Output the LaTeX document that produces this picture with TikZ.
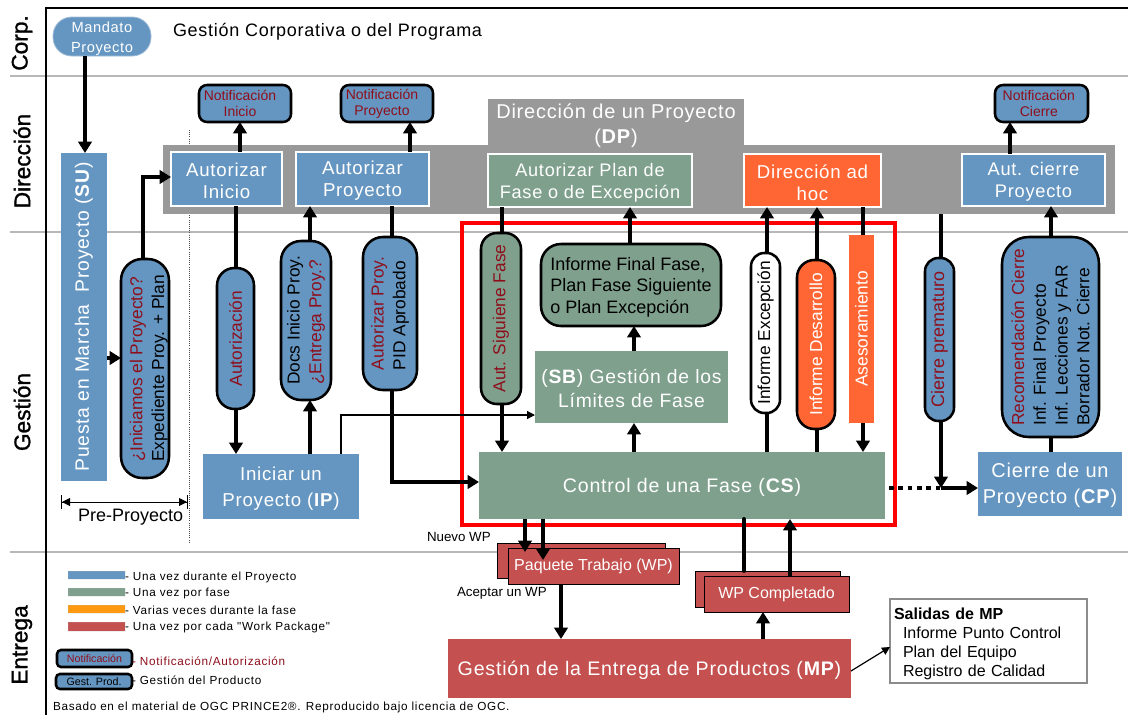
\documentclass[tikz,border=0pt]{standalone}
\usepackage{fontspec}
\usetikzlibrary{arrows.meta}
\setmainfont{Liberation Sans}
\newfontfamily\wf[LetterSpace=4]{Liberation Sans}
\newfontfamily\lf[LetterSpace=6]{Liberation Sans}
\newfontfamily\lanef[FakeBold=1.2]{Liberation Sans}
\newcommand{\F}[2]{\fontsize{#1}{#2}\selectfont}
\definecolor{cblue}{HTML}{6596C1}
\definecolor{cgreen}{HTML}{7FA08D}
\definecolor{corange}{HTML}{FF6633}
\definecolor{cred}{HTML}{C4504F}
\definecolor{cgray}{HTML}{999999}
\definecolor{clegor}{HTML}{FF9911}
\definecolor{rtxt}{HTML}{8E0F1C}
\definecolor{cline}{HTML}{B8B8B8}
\newcommand{\Rd}[1]{{\color{rtxt}#1}}
\newcommand{\St}{\rule{0pt}{13pt}}
\newcommand{\Rp}{\hspace*{7.5pt}}
\newcommand{\pxbox}[7][]{%
  \pgfmathsetmacro\pw{(#5-#3)*0.75}\pgfmathsetmacro\ph{(#6-#4)*0.75}%
  \pgfmathsetmacro\cx{(#3+#5)/2}\pgfmathsetmacro\cy{(#4+#6)/2}%
  \node[#1,minimum width=\pw pt,minimum height=\ph pt] (#2) at (\cx,\cy) {#7};}
\newcommand{\pxpill}[7][]{%
  \pgfmathsetmacro\pw{(#5-#3)*0.75}\pgfmathsetmacro\ph{(#6-#4)*0.75}%
  \pgfmathsetmacro\cx{(#3+#5)/2}\pgfmathsetmacro\cy{(#4+#6)/2}%
  \node[#1,rotate=90,minimum width=\ph pt,minimum height=\pw pt] (#2) at (\cx,\cy) {#7};}
\tikzset{
  base/.style={inner sep=0pt,outer sep=0pt,align=center},
  blue/.style={base,fill=cblue,text=white,font={\wf\F{14}{19.5}}},
  green/.style={base,fill=cgreen,text=white,font={\wf\F{14}{19.5}}},
  orange/.style={base,fill=corange,text=white,font={\wf\F{14}{16.5}}},
  redbox/.style={base,fill=cred,text=white,font={\wf\F{14.7}{19}}},
  whitebord/.style={draw=white,line width=1.5pt},
  notif/.style={base,draw=black,line width=1.9pt,fill=cblue,rounded corners=6pt,text=rtxt,font=\F{10.5}{12}},
  pill/.style={base,draw=black,line width=1.9pt,rounded corners=11pt,font=\F{13}{16.3}},
  wp/.style={base,draw=black,line width=0.75pt,fill=cred,text=white,font={\F{12}{14}}},
  conn/.style={line width=3pt,-{Triangle[length=8.5pt,width=10pt]}},
  plain/.style={line width=3pt},
  thinconn/.style={line width=0.9pt,-{Triangle[length=6pt,width=6pt]}},
  lane/.style={rotate=90,inner sep=0pt,font={\lanef\F{17}{20}}},
  leg/.style={base,anchor=west,font={\lf\F{8.8}{10}}},
  legbar/.style={base,draw=white!70!black,draw opacity=0.2},
  small/.style={base,font=\F{10}{12}}
}
\begin{document}
\begin{tikzpicture}[x=0.75pt,y=-0.75pt]
\useasboundingbox (0,0) rectangle (1128,715);
\fill[white] (0,0) rectangle (1128,715);
% lanes
\coordinate (l1a) at (10,76); \coordinate (l1b) at (1128,76);
\coordinate (l2a) at (10,232); \coordinate (l2b) at (1128,232);
\coordinate (l3a) at (10,552); \coordinate (l3b) at (1128,552);
\draw[cline,line width=1pt] (l1a)--(l1b) (l2a)--(l2b) (l3a)--(l3b);
\coordinate (fa) at (1128,8); \coordinate (fb) at (46,8); \coordinate (fc) at (46,715);
\draw[black,line width=1.7pt] (fa)--(fb)--(fc);
\node[lane] (lcorp) at (22,43) {Corp.};
\node[lane] (ldir) at (22,161) {Dirección};
\node[lane] (lges) at (22,412) {Gestión};
\node[lane] (lent) at (22,645) {Entrega};
\node[base,anchor=west,font=\wf\F{13.5}{15}] (corp) at (173,32) {Gestión Corporativa o del Programa};
% dotted separator
\coordinate (da) at (189,130); \coordinate (db) at (189,542);
\draw[black!70,line width=0.6pt,densely dotted] (da)--(db);
% direction band
\pxbox[base,fill=cgray]{band}{163}{145}{1115}{214}{}
\pxbox[base,fill=cgray,text=white,font={\wf\F{15}{19}}]{dptab}{488}{99}{744}{150}{\St Dirección de un Proyecto\\(\textbf{DP})}
\pxbox[blue,whitebord,font={\wf\F{14}{16.5}}]{ai}{171}{152}{282}{206}{\St Autorizar\\Inicio}
\pxbox[blue,whitebord,font={\wf\F{14}{16.5}}]{ap}{296}{152}{429}{206}{\St Autorizar\\Proyecto}
\pxbox[green,whitebord,font={\wf\F{13.6}{16.5}}]{apf}{488}{154}{692}{207}{\St Autorizar Plan de\\Fase o de Excepción}
\pxbox[orange,whitebord]{dah}{744}{154}{881}{207}{\St Dirección ad\\hoc}
\pxbox[blue,whitebord,font={\wf\F{13.7}{16.5}}]{ac}{962}{154}{1105}{206}{\St Aut. cierre\\Proyecto}
\pxbox[notif]{ni}{199}{85}{291}{122}{Notificación\Rp\\Inicio\Rp}
\pxbox[notif]{np}{341}{85}{433}{122}{Notificación\Rp\\Proyecto\Rp}
\pxbox[notif]{nc}{995}{85}{1088}{122}{Notificación\hspace*{4pt}\\Cierre\hspace*{4pt}}
% corporate
\pxbox[base,fill=cblue,draw=cblue!60!white,line width=0.6pt,rounded corners=14pt,text=white,font={\wf\F{11}{15}}]{mand}{53}{17}{151}{56}{\rule{0pt}{11pt}Mandato\\Proyecto}
% red frame
\pxbox[base,draw=red,line width=2.9pt]{redf}{462}{223}{895}{525}{}
% main boxes
\pxpill[blue,font={\wf\F{14.5}{17}}]{su}{61}{153}{107}{481}{Puesta en Marcha\ \ Proyecto (\textbf{SU})}
\pxbox[blue]{ip}{203}{454}{359}{519}{\St Iniciar un\\Proyecto (\textbf{IP})}
\pxbox[green,font={\wf\F{14.5}{18.5}}]{sb}{535}{351}{728}{423}{\St (\textbf{SB}) Gestión de los\\Límites de Fase}
\pxbox[green,font={\wf\F{14.7}{19}}]{cs}{479}{452}{885}{519}{\St Control de una Fase (\textbf{CS})}
\pxbox[blue,font={\wf\F{15}{19}}]{cp}{978}{452}{1122}{516}{\St Cierre de un\\Proyecto (\textbf{CP})}
% pills
\pxpill[pill,fill=cblue,align=left,rounded corners=16pt]{pe}{121}{259}{169}{478}{\rule{0pt}{15pt}\Rd{¿Iniciamos el Proyecto?}\\Expediente Proy. + Plan}
\pxpill[pill,fill=cblue,text=rtxt,rounded corners=13pt]{pa}{217}{268}{254}{409}{Autorización}
\pxpill[pill,fill=cblue,align=left,rounded corners=15pt]{pd}{281}{241}{331}{400}{Docs Inicio Proy.\\\Rd{¿Entrega Proy.?}}
\pxpill[pill,fill=cblue,align=left,rounded corners=15pt]{pz}{363}{237}{417}{390}{\Rd{Autorizar Proy.}\\PID Aprobado}
\pxpill[pill,fill=cgreen,text=rtxt,rounded corners=12pt]{ps}{481}{233}{521}{404}{Aut. Siguiene Fase}
\pxbox[pill,fill=cgreen,rounded corners=15pt,align=left,font=\F{13.5}{16}]{iff}{541}{244}{721}{326}{\St Informe Final Fase,\\Plan Fase Siguiente\\o Plan Excepción}
\pxpill[pill,fill=white,rounded corners=10pt]{pex}{751}{253}{780}{413}{Informe Excepción}
\pxpill[pill,fill=corange,text=white,rounded corners=13pt]{pdes}{797}{260}{835}{429}{Informe Desarrollo}
\pxpill[base,fill=corange,text=white,font=\F{13}{16}]{pas}{849}{235}{874}{423}{Asesoramiento}
\pxpill[pill,fill=cblue,text=rtxt,rounded corners=10pt,font=\F{13.5}{16}]{pc}{925}{258}{954}{421}{Cierre prematuro}
\pxpill[pill,fill=cblue,align=left,rounded corners=20pt]{pr}{1002}{237}{1099}{437}{\Rd{Recomendación Cierre}\\Inf. Final Proyecto\\Inf. Lecciones y FAR\\Borrador Not. Cierre}
% WP
\pxbox[wp]{wpb}{497}{543}{665}{578}{}
\pxbox[wp]{wpf}{508}{548}{679}{584}{Paquete Trabajo (WP)}
\pxbox[wp]{wcb}{695}{571}{840}{607}{}
\pxbox[wp]{wcf}{704}{576}{849}{612}{WP Completado}
\pxbox[redbox]{mp}{448}{639}{851}{698}{\St Gestión de la Entrega de Productos (\textbf{MP})}
\pxbox[base,draw=black!45,line width=1.6pt,fill=white,align=left,text width=141.75pt,font=\F{12}{14.4}]{sal}{890}{599}{1087}{683}{\rule{0pt}{13pt}\textbf{Salidas de MP}\\[-0.5pt]\hspace*{6.75pt}Informe Punto Control\\\hspace*{6.75pt}Plan del Equipo\\\hspace*{6.75pt}Registro de Calidad}
\node[small,anchor=west] (nwp) at (427,537) {Nuevo WP};
\node[small,anchor=west] (awp) at (457,593) {Aceptar un WP};
\node[base,anchor=west,font=\F{13.5}{16}] (prep) at (78,517) {Pre-Proyecto};
% connectors
\draw[conn] (85,0 |- mand.south) -- (85,0 |- su.east);
\draw[conn] (su.south |- 0,358) -- (pe.north |- 0,358);
\draw[conn] (143,0 |- pe.east) -- (143,177) -- (ai.west |- 0,177);
\draw[conn] (240,0 |- ai.north) -- (240,0 |- ni.south);
\draw[conn] (410,0 |- ap.north) -- (410,0 |- np.south);
\draw[conn] (1010,0 |- ac.north) -- (1010,0 |- nc.south);
\draw[plain] (236,0 |- ai.south) -- (236,0 |- pa.east);
\draw[conn] (236,0 |- pa.west) -- (236,0 |- ip.north);
\draw[conn] (310,0 |- ip.north) -- (310,0 |- pd.west);
\draw[conn] (310,0 |- pd.east) -- (310,0 |- ap.south);
\draw[plain] (392,0 |- ap.south) -- (392,0 |- pz.east);
\draw[conn] (392,0 |- pz.west) -- (392,482) -- (cs.west |- 0,482);
\draw[thinconn] (341,0 |- ip.north) -- (341,415) -- (sb.west |- 0,415);
\draw[plain] (502,0 |- apf.south) -- (502,0 |- ps.east);
\draw[conn] (502,0 |- ps.west) -- (502,0 |- cs.north);
\draw[conn] (630,0 |- iff.north) -- (630,0 |- apf.south);
\draw[conn] (634,0 |- sb.north) -- (634,0 |- iff.south);
\draw[conn] (634,0 |- cs.north) -- (634,0 |- sb.south);
\draw[plain] (767,0 |- cs.north) -- (767,0 |- pex.west);
\draw[conn] (767,0 |- pex.east) -- (767,0 |- dah.south);
\draw[plain] (817,0 |- cs.north) -- (817,0 |- pdes.west);
\draw[conn] (817,0 |- pdes.east) -- (817,0 |- dah.south);
\draw[plain] (863,0 |- dah.south) -- (863,0 |- pas.east);
\draw[conn] (863,0 |- pas.west) -- (863,0 |- cs.north);
\draw[plain] (941,0 |- band.south) -- (941,0 |- pc.east);
\draw[conn] (941,0 |- pc.west) -- (941,488);
\draw[line width=3.2pt,dash pattern=on 3.5pt off 3.5pt] (cs.east |- 0,488) ++(4,0) -- (941,488);
\draw[line width=3.2pt,-{Triangle[length=8.5pt,width=10pt]}] (941,488) -- (cp.west |- 0,488);
\draw[plain] (1051,0 |- cp.north) -- (1051,0 |- pr.west);
\draw[conn] (1051,0 |- pr.east) -- (1051,0 |- ac.south);
\draw[conn] (525,0 |- cs.south) -- (525,552);
\draw[conn] (543,0 |- cs.south) -- (543,560);
\draw[conn] (561,0 |- wpf.south) -- (561,0 |- mp.north);
\draw[plain,line cap=round] (744,0 |- wcb.north) -- (744,0 |- cs.south);
\draw[conn] (790,0 |- wcf.north) -- (790,0 |- cs.south);
\draw[conn] (763,0 |- mp.north) -- (763,0 |- wcf.south);
\draw[thinconn] (mp.east |- 0,671) -- (sal.west |- 0,647);
\coordinate (ppa) at (61,502); \coordinate (ppb) at (188,502);
\draw[line width=0.75pt,{Bar[width=10pt]Triangle[length=6pt,width=6pt]}-{Triangle[length=6pt,width=6pt]Bar[width=10pt]}] (ppa) -- (ppb);
% legend
\pxbox[legbar,fill=cblue]{lb1}{68}{571}{125}{579}{}
\pxbox[legbar,fill=cgreen]{lb2}{68}{588}{125}{596}{}
\pxbox[legbar,fill=clegor]{lb3}{68}{605}{125}{613}{}
\pxbox[legbar,fill=cred]{lb4}{68}{622}{125}{631}{}
\node[leg] (lt1) at (125,577) {- Una vez durante el Proyecto};
\node[leg] (lt2) at (125,593) {- Una vez por fase};
\node[leg] (lt3) at (125,610) {- Varias veces durante la fase};
\node[leg] (lt4) at (125,627) {- Una vez por cada "Work Package"};
\pxbox[notif,font=\F{8}{9},rounded corners=3pt]{ln}{57}{650}{132}{667}{Notificación}
\pxbox[notif,font=\F{8}{9},text=black,rounded corners=3pt]{lg}{56}{674}{132}{689}{Gest. Prod.}
\node[leg,text=rtxt] (lt5) at (132,661) {- Notificación/Autorización};
\node[leg] (lt6) at (132,680) {- Gestión del Producto};
\node[leg] (foot) at (53,707) {Basado en el material de OGC PRINCE2®. Reproducido bajo licencia de OGC.};
\end{tikzpicture}
\end{document}
